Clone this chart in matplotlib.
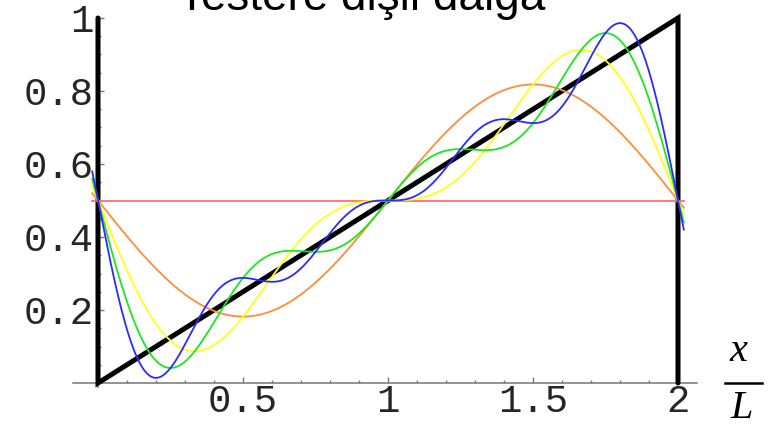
import numpy as np
import matplotlib
matplotlib.use("Agg")
import matplotlib.pyplot as plt
from matplotlib.lines import Line2D

# sawtooth wave and its Fourier partial sums
title = "Testere dişli dalga"
saw_x = [0, 0, 2, 2]
saw_y = [1, 0, 1, 0]
mean_level = 0.5
sine_amplitudes = [0.318, 0.159, 0.106, 0.080]   # orange, yellow, green, blue add one term each
curve_colors = ["#ff6e6e", "#ff8c3a", "#ffff1a", "#1ee61e", "#2b2bff"]

x_ticks = [0.5, 1, 1.5, 2]
x_tick_labels = ["0.5", "1", "1.5", "2"]
y_ticks = [0.2, 0.4, 0.6, 0.8, 1]
y_tick_labels = ["0.2", "0.4", "0.6", "0.8", "1"]

W, H = 773, 428
fig = plt.figure(figsize=(W / 100, H / 100), dpi=100)
ax = fig.add_axes([98 / W, 45 / H, 580 / W, 365 / H])
ax.set_xlim(0, 2)
ax.set_ylim(0, 1)
for s in ax.spines.values():
    s.set_visible(False)

# axis lines
ax.plot([-0.086, 2.065], [0, 0], color="#777777", lw=1.1, clip_on=False, zorder=1)
ax.plot([0, 0], [-0.012, 1.0], color="#777777", lw=1.1, clip_on=False, zorder=1)

# black sawtooth
ax.plot(saw_x, saw_y, color="black", lw=3.6, solid_capstyle="round",
        solid_joinstyle="miter", clip_on=False, zorder=2)

# partial sums
xs = np.linspace(-0.02, 2.02, 800)
partial = np.full_like(xs, mean_level)
ax.plot(xs, partial, color=curve_colors[0], lw=1.3, clip_on=False, zorder=3)
for n, amp in enumerate(sine_amplitudes, start=1):
    partial = partial - amp * np.sin(n * np.pi * xs)
    ax.plot(xs, partial, color=curve_colors[n], lw=1.3, clip_on=False, zorder=3 + n)

# ticks
mono = "Liberation Mono"
ax.set_xticks(x_ticks)
ax.set_xticklabels(x_tick_labels, family=mono, fontsize=28, color="#262626")
ax.set_xticks(np.arange(0.1, 2.0, 0.1), minor=True)
ax.set_yticks(y_ticks)
ax.set_yticklabels(y_tick_labels, family=mono, fontsize=28, color="#262626")
ax.set_yticks(np.arange(0.05, 1.0, 0.05), minor=True)
ax.tick_params(which="both", direction="in", color="#777777", width=1)
ax.tick_params(which="major", length=4)
ax.tick_params(which="minor", length=2.5)
ax.tick_params(axis="x", which="major", pad=1)
ax.tick_params(axis="y", which="major", pad=3)

# title, cut off at the top like the original
fig.text(362 / W, 1 - 10 / H, title, ha="center", va="baseline",
         family="Liberation Sans", fontsize=33)

# x / L axis label
fig.text(738 / W, 1 - 361 / H, "x", ha="center", va="baseline",
         family="Liberation Serif", style="italic", fontsize=29)
fig.text(742 / W, 1 - 418 / H, "L", ha="center", va="baseline",
         family="Liberation Serif", style="italic", fontsize=29)
fig.add_artist(Line2D([725 / W, 762 / W], [1 - 383 / H, 1 - 383 / H],
                      color="black", lw=1.8))

fig.savefig("out.png", dpi=100)
